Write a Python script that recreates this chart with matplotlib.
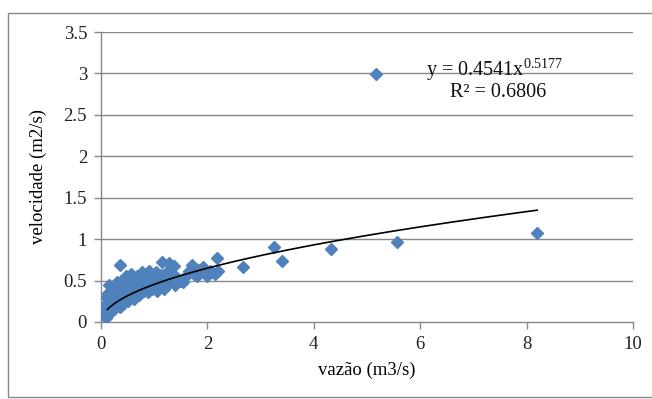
import matplotlib
matplotlib.use("Agg")
import matplotlib.pyplot as plt
import numpy as np
from matplotlib.patches import Rectangle

# Data
vazao = [0.05, 0.07, 0.08, 0.09, 0.10, 0.11, 0.12, 0.13, 0.14, 0.15, 0.16, 0.17, 0.18, 0.20, 0.20,
         0.22, 0.24, 0.25, 0.27, 0.28, 0.30, 0.30, 0.32, 0.34, 0.35, 0.36, 0.37, 0.38, 0.40, 0.42,
         0.43, 0.45, 0.47, 0.48, 0.50,
         0.52, 0.55, 0.57, 0.60, 0.62, 0.63, 0.65, 0.68, 0.70, 0.72, 0.75, 0.78, 0.80, 0.82, 0.85,
         0.88, 0.90, 0.93, 0.95, 0.98,
         1.00, 1.03, 1.05, 1.08, 1.10, 1.12, 1.14, 1.15, 1.18, 1.20, 1.25, 1.28, 1.30, 1.35, 1.38,
         1.40, 1.45, 1.50,
         1.54, 1.60, 1.65, 1.71, 1.75, 1.80, 1.85, 1.92, 1.95, 2.00, 2.05, 2.09, 2.15, 2.18, 2.20,
         2.67, 3.25, 3.40, 4.33, 5.17, 5.57, 8.20]
velocidade = [0.08, 0.12, 0.20, 0.05, 0.30, 0.15, 0.22, 0.10, 0.35, 0.45, 0.18, 0.27, 0.12, 0.38, 0.22,
              0.30, 0.16, 0.42, 0.25, 0.35, 0.20, 0.48, 0.30, 0.40, 0.18, 0.69, 0.27, 0.50, 0.35, 0.22,
              0.45, 0.30, 0.55, 0.38, 0.25,
              0.45, 0.33, 0.58, 0.40, 0.28, 0.50, 0.36, 0.55, 0.42, 0.32, 0.48, 0.60, 0.38, 0.52, 0.44,
              0.36, 0.62, 0.47, 0.40, 0.56,
              0.45, 0.60, 0.38, 0.52, 0.42, 0.57, 0.72, 0.47, 0.40, 0.55, 0.62, 0.71, 0.48, 0.58, 0.68,
              0.45, 0.52, 0.50,
              0.48, 0.56, 0.62, 0.69, 0.58, 0.55, 0.63, 0.66, 0.60, 0.55, 0.62, 0.60, 0.58, 0.77, 0.62,
              0.66, 0.91, 0.74, 0.88, 2.99, 0.97, 1.07]

coef_a = 0.4541
coef_b = 0.5177
fit_start = 0.12
eq_text = "y = 0.4541x$^{0.5177}$"
r2_text = "R² = 0.6806"

x_ticks = [0, 2, 4, 6, 8, 10]
y_ticks = [0, 0.5, 1, 1.5, 2, 2.5, 3, 3.5]
y_ticklabels = ["0", "0.5", "1", "1.5", "2", "2.5", "3", "3.5"]

plt.rcParams['font.family'] = ['Liberation Serif', 'DejaVu Serif']
plt.rcParams['mathtext.fontset'] = 'custom'
plt.rcParams['mathtext.rm'] = 'Liberation Serif'
plt.rcParams['mathtext.it'] = 'Liberation Serif'

fig = plt.figure(figsize=(6.52, 3.99), dpi=100)
ax = fig.add_axes([101/652, 1-322/399, (633-101)/652, (322-32)/399])

grid_col = "#888888"
ax.set_xlim(0, 10)
ax.set_ylim(0, 3.5)
ax.set_yticks(y_ticks)
ax.set_yticklabels(y_ticklabels)
ax.set_xticks(x_ticks)
for yv in y_ticks[1:]:
    ax.axhline(yv, color=grid_col, lw=1.0, zorder=0)
for s in ['top', 'right']:
    ax.spines[s].set_visible(False)
for s in ['left', 'bottom']:
    ax.spines[s].set_color(grid_col)
    ax.spines[s].set_linewidth(1.0)
ax.tick_params(axis='both', colors=grid_col, length=5, width=1.0, direction='out',
               labelsize=13.5, labelcolor='#222222', pad=5)

ax.plot(vazao, velocidade, linestyle='none', marker='D', markersize=5.8,
        color='#4F81BD', markeredgecolor='#4F81BD', zorder=3)

xf = np.linspace(fit_start, max(vazao), 300)
ax.plot(xf, coef_a * xf ** coef_b, color='black', lw=1.2, zorder=4)

ax.text(7.40, 3.04, eq_text, fontsize=14.5, ha='center', va='center', color='#111111')
ax.text(7.46, 2.77, r2_text, fontsize=14.5, ha='center', va='center', color='#111111')

ax.set_xlabel("vazão (m3/s)", fontsize=13.5, labelpad=6)
ax.set_ylabel("velocidade (m2/s)", fontsize=13.5, labelpad=12)

fig.patches.append(Rectangle((8/652, 2/399), 1.0, (397-13)/399, transform=fig.transFigure,
                             fill=False, edgecolor=grid_col, lw=1.0))

fig.savefig("out.png", dpi=100)
